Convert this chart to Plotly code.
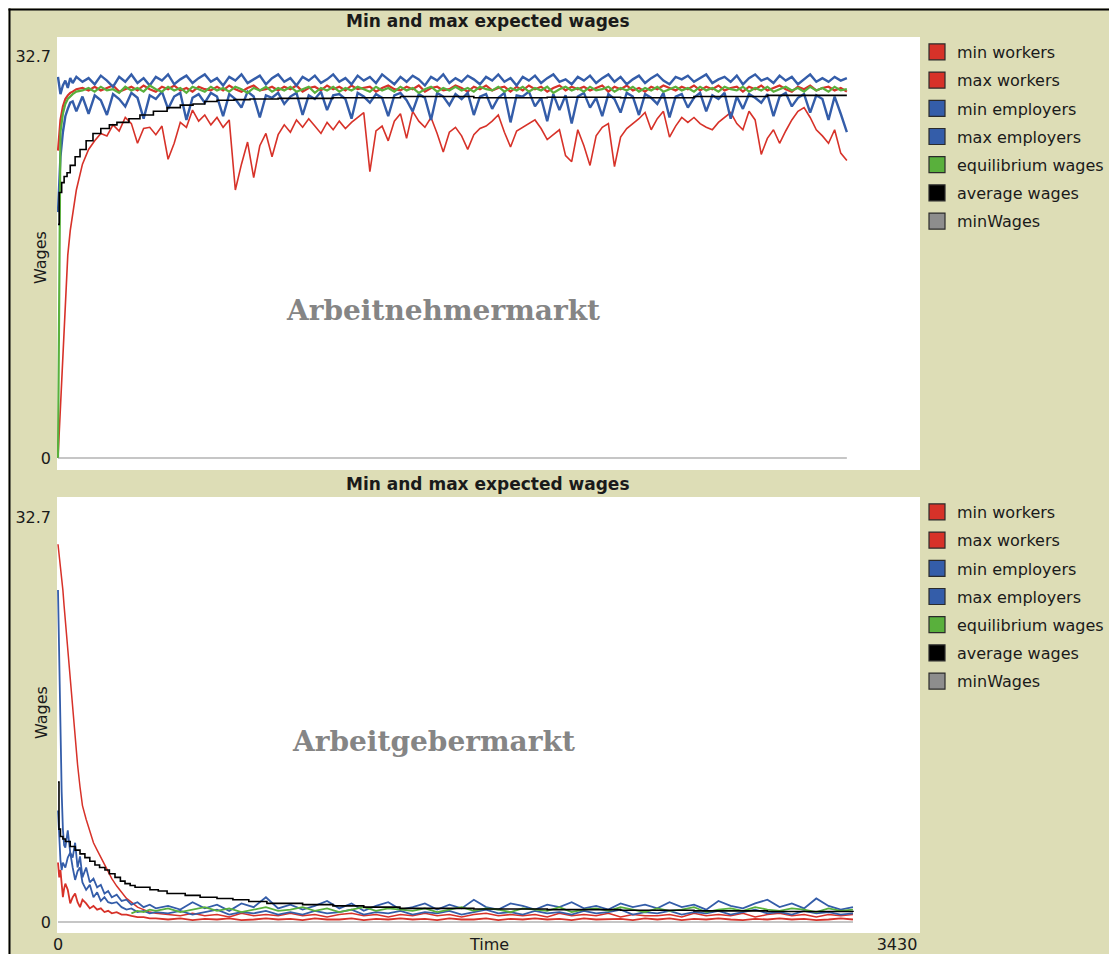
import plotly.graph_objects as go

W, H = 1109, 954
BEIGE = "#DDDDB6"
RED = "rgb(215,50,41)"
BLUE = "rgb(52,93,169)"
GREEN = "rgb(89,176,60)"
BLACK = "rgb(0,0,0)"
GRAY = "rgb(141,141,141)"
TEXT = "#1a1a1a"

SERIES_NAMES = ["min workers", "max workers", "min employers", "max employers",
                "equilibrium wages", "average wages", "minWages"]
SERIES_COLORS = [RED, RED, BLUE, BLUE, GREEN, BLACK, GRAY]

PLOT_TITLE = "Min and max expected wages"
Y_TITLE = "Wages"
X_TITLE = "Time"
X_TICKS = [0, 3430]
Y_TICKS = [0, 32.7]
MARKET_LABELS = ["Arbeitnehmermarkt", "Arbeitgebermarkt"]

# ---------------- top panel (Arbeitnehmermarkt) ----------------
T_TOP = [0, 10, 20, 30, 40, 50, 60, 75, 100, 125,
         150, 175, 200, 225, 250, 275, 300, 325, 350, 375,
         400, 425, 450, 475, 500, 525, 550, 575, 600, 625,
         650, 675, 700, 725, 750, 775, 800, 825, 850, 875,
         900, 925, 950, 975, 1000, 1025, 1050, 1075, 1100, 1125,
         1150, 1175, 1200, 1225, 1250, 1275, 1300, 1325, 1350, 1375,
         1400, 1425, 1450, 1475, 1500, 1525, 1550, 1575, 1600, 1625,
         1650, 1675, 1700, 1725, 1750, 1775, 1800, 1825, 1850, 1875,
         1900, 1925, 1950, 1975, 2000, 2025, 2050, 2075, 2100, 2125,
         2150, 2175, 2200, 2225, 2250, 2275, 2300, 2325, 2350, 2375,
         2400, 2425, 2450, 2475, 2500, 2525, 2550, 2575, 2600, 2625,
         2650, 2675, 2700, 2725, 2750, 2775, 2800, 2825, 2850, 2875,
         2900, 2925, 2950, 2975, 3000, 3025, 3050, 3075, 3100, 3125,
         3150, 3175, 3200, 3225]

MIN_WORKERS_TOP = [0, 4, 9, 13, 16.5, 18.5, 20, 21.8, 23.9, 25.1,
                   25.8, 26.4, 26.2, 27.1, 26.6, 27.7, 27.2, 25.6, 26.8, 26.9,
                   26.3, 27.0, 24.3, 25.6, 27.3, 26.9, 28.3, 27.4, 27.9, 27.1,
                   27.7, 26.9, 27.5, 21.8, 23.9, 25.7, 22.8, 25.4, 26.4, 24.5,
                   26.3, 27.1, 26.5, 27.5, 26.9, 27.6, 27.0, 26.4, 27.3, 26.7,
                   27.4, 26.8, 27.3, 27.7, 28.1, 23.3, 26.6, 27.0, 25.8, 27.4,
                   28.0, 26.0, 28.2, 27.4, 26.9, 27.7, 26.4, 24.9, 26.5, 26.9,
                   26.2, 25.1, 26.3, 26.8, 27.0, 27.4, 27.9, 26.5, 25.3, 26.6,
                   26.9, 27.2, 27.5, 26.8, 25.9, 26.3, 26.7, 24.6, 24.1, 26.7,
                   25.4, 23.8, 26.2, 26.9, 27.2, 23.7, 26.1, 26.8, 27.2, 27.6,
                   28.1, 26.7, 27.6, 28.2, 26.1, 27.0, 27.7, 27.3, 27.7, 27.2,
                   26.9, 26.7, 27.3, 27.7, 28.1, 27.2, 26.7, 28.2, 27.5, 24.7,
                   26.0, 26.7, 25.6, 26.6, 27.5, 28.2, 28.5, 27.7, 26.7, 26.2,
                   25.6, 26.7, 24.8, 24.2]

MAX_WORKERS_TOP = [25.0, 27.5, 28.6, 29.2, 29.5, 29.7, 29.8, 30.0, 30.1, 29.9,
                   30.2, 29.9, 30.1, 30.3, 29.8, 30.0, 30.2, 29.9, 30.3, 30.0,
                   29.8, 30.2, 30.0, 30.3, 29.9, 30.1, 29.8, 30.2, 30.0, 29.9,
                   30.2, 29.9, 30.3, 30.0, 29.8, 30.1, 30.3, 29.9, 30.0, 30.2,
                   29.9, 30.2, 30.0, 30.3, 29.8, 30.1, 30.2, 29.9, 30.3, 30.0,
                   30.2, 29.9, 30.3, 30.0, 30.1, 30.2, 29.8, 30.1, 30.3, 30.0,
                   29.9, 30.2, 30.0, 30.3, 29.8, 30.1, 30.2, 29.9, 30.0, 30.3,
                   30.1, 29.8, 30.2, 30.0, 30.3, 29.9, 30.1, 30.2, 29.8, 30.2,
                   29.9, 30.3, 30.0, 30.2, 29.8, 30.1, 30.3, 29.9, 30.2, 30.0,
                   30.2, 29.9, 30.1, 30.3, 29.8, 30.2, 30.0, 30.3, 29.9, 30.1,
                   29.8, 30.2, 30.0, 30.3, 30.1, 29.9, 30.2, 30.0, 30.3, 29.9,
                   30.2, 30.0, 30.3, 29.9, 30.1, 30.2, 29.8, 30.2, 30.0, 30.3,
                   29.9, 30.1, 30.3, 30.0, 29.8, 30.2, 30.0, 30.3, 29.9, 30.1,
                   30.2, 29.9, 30.1, 29.8]

MIN_EMPLOYERS_TOP = [20.0, 24.5, 26.5, 27.8, 28.4, 28.9, 29.0, 28.2, 29.4, 28.0,
                     29.5, 29.1, 27.9, 29.6, 29.2, 28.6, 29.7, 29.3, 27.6, 29.5,
                     29.2, 29.8, 28.4, 29.4, 29.7, 27.5, 29.3, 29.6, 28.9, 29.7,
                     29.4, 27.8, 29.6, 29.2, 28.5, 29.8, 29.4, 27.7, 29.5, 29.3,
                     29.7, 28.8, 29.4, 29.7, 27.9, 29.5, 29.2, 29.8, 28.3, 29.5,
                     29.6, 29.2, 27.6, 29.7, 29.4, 28.9, 29.6, 29.3, 27.8, 29.5,
                     29.7, 29.1, 28.2, 29.6, 29.3, 27.5, 29.7, 29.4, 28.7, 29.6,
                     29.2, 29.7, 27.9, 29.4, 29.6, 28.4, 29.3, 29.7, 27.3, 29.5,
                     29.4, 29.8, 28.6, 29.3, 27.4, 29.6, 28.3, 29.5, 27.2, 29.4,
                     29.7, 28.5, 29.3, 27.8, 29.6, 29.2, 28.1, 29.7, 29.4, 27.9,
                     29.6, 29.3, 28.8, 29.7, 27.7, 29.4, 29.6, 28.5, 29.3, 29.7,
                     28.2, 29.5, 29.2, 29.7, 27.6, 29.4, 28.4, 29.6, 29.3, 28.9,
                     29.6, 27.8, 29.4, 29.7, 28.6, 29.3, 29.6, 28.1, 29.5, 29.2,
                     27.5, 29.4, 28.0, 26.5]

MAX_EMPLOYERS_TOP = [31.0, 29.6, 30.3, 30.7, 30.1, 30.9, 30.5, 31.0, 30.6, 30.9,
                     30.4, 31.1, 30.7, 30.2, 31.0, 30.6, 31.2, 30.5, 30.9, 30.3,
                     31.0, 30.7, 31.2, 30.4, 30.8, 31.1, 30.5, 30.9, 31.2, 30.6,
                     30.9, 30.3, 31.0, 30.7, 31.2, 30.5, 30.8, 31.1, 30.4, 30.9,
                     31.2, 30.6, 30.9, 30.3, 31.0, 30.7, 31.1, 30.5, 30.8, 31.2,
                     30.6, 30.9, 30.4, 31.1, 30.7, 31.0, 30.5, 31.2, 30.8, 30.4,
                     31.0, 30.6, 31.1, 30.8, 30.3, 31.0, 30.7, 31.2, 30.5, 30.9,
                     30.6, 31.1, 30.8, 30.4, 31.0, 30.7, 31.2, 30.6, 30.9, 30.3,
                     31.0, 30.7, 31.1, 30.5, 30.9, 31.2, 30.6, 30.8, 30.4, 31.0,
                     30.7, 31.1, 30.5, 30.9, 31.2, 30.6, 31.0, 30.4, 30.8, 31.1,
                     30.5, 30.9, 31.2, 30.7, 30.4, 31.0, 30.8, 31.1, 30.6, 30.9,
                     31.2, 30.5, 30.8, 31.0, 30.6, 31.1, 30.4, 30.9, 31.2, 30.7,
                     30.9, 30.5, 31.1, 30.7, 31.0, 30.4, 30.8, 31.2, 30.6, 30.9,
                     30.6, 31.0, 30.7, 30.9]

EQUILIBRIUM_TOP = [0, 26.5, 28.0, 28.8, 29.2, 29.4, 29.6, 29.8, 29.9, 30.1,
                   29.8, 30.2, 29.9, 30.0, 29.7, 30.2, 29.9, 30.1, 29.8, 30.3,
                   30.0, 29.8, 30.2, 29.9, 30.1, 29.7, 30.2, 30.0, 29.8, 30.2,
                   29.9, 30.1, 29.8, 30.2, 30.0, 29.7, 30.1, 29.9, 30.2, 29.8,
                   30.1, 29.9, 30.2, 29.8, 30.0, 30.2, 29.7, 30.1, 29.9, 30.2,
                   29.8, 30.1, 29.9, 30.2, 30.0, 29.8, 30.2, 29.9, 30.1, 29.8,
                   30.2, 29.9, 30.1, 29.7, 30.0, 30.2, 29.8, 30.1, 29.9, 30.2,
                   29.9, 30.1, 29.8, 30.2, 30.0, 29.9, 30.2, 29.8, 30.1, 29.9,
                   30.2, 29.8, 30.1, 29.9, 30.2, 29.7, 30.0, 30.2, 29.9, 30.1,
                   29.8, 30.2, 29.9, 30.0, 30.2, 29.8, 30.1, 29.9, 30.2, 29.8,
                   30.1, 29.9, 30.2, 29.8, 30.0, 30.2, 29.9, 30.1, 29.8, 30.2,
                   29.9, 30.1, 29.8, 30.2, 30.0, 29.9, 30.2, 29.8, 30.1, 29.9,
                   30.2, 29.8, 30.0, 30.2, 29.9, 30.1, 29.8, 30.2, 29.9, 30.1,
                   29.8, 30.2, 29.9, 30.0]

T_AVG_TOP = [0, 5, 15, 25, 37, 50, 70, 90, 115, 143, 175, 210, 241, 290, 335, 390,
             446, 500, 552, 600, 650, 720, 785, 900, 1124, 1400, 1700, 2000, 2300,
             2600, 2900, 3225]
AVG_TOP = [19.0, 21.6, 22.4, 22.9, 23.2, 23.8, 24.5, 25.1, 25.8, 26.4, 26.8, 27.1,
           27.3, 27.6, 27.9, 28.2, 28.5, 28.7, 28.8, 29.0, 29.1, 29.15, 29.2, 29.25,
           29.3, 29.4, 29.3, 29.35, 29.3, 29.4, 29.5, 29.5]

T_MINWAGE_TOP = [0, 3225]
MINWAGE_TOP = [0, 0]

# ---------------- bottom panel (Arbeitgebermarkt) ----------------
T_BOT = [0, 5, 10, 15, 20, 25, 30, 40, 50, 60,
         70, 80, 90, 100, 115, 130, 145, 160, 175, 190,
         205, 220, 240, 260, 280, 300, 325, 350, 375, 400,
         450, 500, 550, 600, 650, 700, 750, 800, 850, 900,
         950, 1000, 1050, 1100, 1150, 1200, 1250, 1300, 1350, 1400,
         1450, 1500, 1550, 1600, 1650, 1700, 1750, 1800, 1850, 1900,
         1950, 2000, 2050, 2100, 2150, 2200, 2250, 2300, 2350, 2400,
         2450, 2500, 2550, 2600, 2650, 2700, 2750, 2800, 2850, 2900,
         2950, 3000, 3050, 3100, 3150, 3200, 3250]

MIN_WORKERS_BOT = [4.8, 3.6, 4.2, 2.8, 2.0, 2.7, 3.1, 2.6, 1.5, 2.0,
                   2.3, 1.6, 1.2, 1.8, 1.5, 1.1, 1.3, 1.0, 1.1, 0.8,
                   0.9, 0.7, 0.8, 0.6, 0.6, 0.5, 0.4, 0.4, 0.3, 0.3,
                   0.2, 0.3, 0.15, 0.25, 0.2, 0.3, 0.15, 0.2, 0.3, 0.2,
                   0.25, 0.15, 0.3, 0.2, 0.2, 0.3, 0.15, 0.25, 0.2, 0.3,
                   0.2, 0.25, 0.15, 0.3, 0.2, 0.2, 0.3, 0.15, 0.25, 0.2,
                   0.3, 0.2, 0.25, 0.15, 0.3, 0.2, 0.2, 0.25, 0.15, 0.3,
                   0.2, 0.3, 0.15, 0.25, 0.2, 0.3, 0.2, 0.15, 0.25, 0.2,
                   0.3, 0.2, 0.25, 0.15, 0.2, 0.3, 0.2]

MAX_WORKERS_BOT = [30.5, 29.7, 28.8, 27.9, 26.8, 25.5, 24.3, 21.7, 19.4, 17.2,
                   14.9, 12.7, 10.9, 9.4, 8.3, 7.3, 6.4, 5.8, 5.2, 4.6,
                   4.0, 3.5, 2.9, 2.4, 1.9, 1.6, 1.2, 1.0, 0.8, 0.7,
                   0.6, 0.5, 0.7, 0.5, 0.6, 0.4, 0.7, 0.5, 0.6, 0.5,
                   0.7, 0.5, 0.6, 0.4, 0.6, 0.7, 0.5, 0.6, 0.4, 0.6,
                   0.5, 0.7, 0.5, 0.6, 0.4, 0.6, 0.7, 0.5, 0.6, 0.5,
                   0.6, 0.4, 0.7, 0.5, 0.6, 0.5, 0.7, 0.4, 0.6, 0.5,
                   0.5, 0.6, 0.4, 0.7, 0.5, 0.6, 0.5, 0.7, 0.4, 0.6,
                   0.7, 0.5, 0.6, 0.4, 0.6, 0.5, 0.6]

MIN_EMPLOYERS_BOT = [9.0, 6.5, 5.0, 4.2, 4.8, 4.6, 4.4, 5.2, 5.6, 4.4,
                     3.4, 4.1, 4.4, 3.2, 2.6, 3.0, 2.0, 2.4, 1.7, 2.0,
                     1.6, 1.5, 1.6, 1.2, 1.0, 1.1, 0.8, 0.9, 0.7, 0.8,
                     0.7, 0.9, 0.6, 0.8, 1.0, 0.6, 0.8, 0.7, 0.9, 0.6,
                     0.8, 0.6, 0.9, 0.7, 0.8, 1.0, 0.6, 0.8, 0.7, 0.9,
                     0.6, 0.8, 0.7, 0.9, 0.6, 0.8, 1.0, 0.7, 0.8, 0.6,
                     0.9, 0.7, 0.8, 0.6, 0.9, 0.7, 0.8, 1.0, 0.6, 0.8,
                     0.7, 0.9, 0.6, 0.8, 0.7, 0.9, 0.6, 0.8, 1.0, 0.7,
                     0.8, 0.6, 0.9, 0.7, 0.8, 0.6, 0.7]

MAX_EMPLOYERS_BOT = [26.8, 21.0, 15.0, 10.5, 7.5, 6.2, 6.0, 7.4, 5.6, 5.2,
                     6.4, 4.4, 5.3, 3.6, 4.4, 3.2, 3.5, 2.8, 3.0, 2.3,
                     2.5, 2.0, 2.2, 1.7, 1.8, 1.4, 1.6, 1.2, 1.4, 1.1,
                     1.3, 1.0, 1.6, 1.1, 1.4, 0.9, 1.5, 1.2, 2.0, 1.1,
                     1.4, 1.0, 1.3, 1.7, 1.1, 1.5, 0.9, 1.3, 1.6, 1.0,
                     1.2, 1.5, 1.0, 1.4, 1.1, 1.8, 1.2, 1.0, 1.5, 1.3,
                     1.0, 1.4, 1.2, 1.6, 1.1, 1.3, 1.0, 1.5, 1.2, 1.4,
                     1.1, 1.6, 1.2, 1.4, 1.0, 1.7, 1.3, 1.1, 1.5, 1.8,
                     1.2, 1.5, 1.1, 1.9, 1.3, 1.0, 1.2]

T_EQ_BOT = [300, 325, 350, 375, 400,
            450, 500, 550, 600, 650, 700, 750, 800, 850, 900,
            950, 1000, 1050, 1100, 1150, 1200, 1250, 1300, 1350, 1400,
            1450, 1500, 1550, 1600, 1650, 1700, 1750, 1800, 1850, 1900,
            1950, 2000, 2050, 2100, 2150, 2200, 2250, 2300, 2350, 2400,
            2450, 2500, 2550, 2600, 2650, 2700, 2750, 2800, 2850, 2900,
            2950, 3000, 3050, 3100, 3150, 3200, 3250]
EQUILIBRIUM_BOT = [0.7, 0.9, 0.8, 1.0, 0.9,
                   1.1, 0.8, 1.0, 1.2, 0.9, 1.1, 0.8, 1.0, 1.2, 0.9,
                   1.0, 1.2, 0.9, 1.1, 0.8, 1.0, 1.2, 0.9, 1.1, 1.0,
                   0.9, 1.1, 0.8, 1.0, 1.2, 0.9, 1.1, 1.0, 0.8, 1.1,
                   1.0, 0.9, 1.2, 0.8, 1.0, 1.1, 0.9, 1.2, 1.0, 0.8,
                   1.1, 0.9, 1.0, 1.2, 0.8, 1.0, 1.1, 0.9, 1.2, 1.0,
                   0.9, 1.1, 1.0, 0.8, 1.1, 0.9, 1.0]

T_AVG_BOT = [0, 4, 10, 20, 30, 50, 70, 90, 110, 130, 151, 170, 192, 210, 233, 255,
             274, 295, 315, 376, 410, 446, 520, 581, 650, 715, 780, 854, 1000, 1124,
             1250, 1398, 1700, 2000, 2300, 2600, 2900, 3250]
AVG_BOT = [11.3, 7.5, 6.9, 6.7, 6.5, 6.1, 5.8, 5.5, 5.2, 4.9, 4.6, 4.4, 4.2, 3.9,
           3.6, 3.3, 3.1, 2.95, 2.8, 2.6, 2.5, 2.3, 2.15, 2.0, 1.9, 1.8, 1.65, 1.5,
           1.4, 1.3, 1.2, 1.1, 1.05, 1.0, 0.95, 0.9, 0.85, 0.8]

T_MINWAGE_BOT = [0, 3250]
MINWAGE_BOT = [0, 0]


def px(p):
    return p / W


def py(p):
    return 1 - p / H


fig = go.Figure()

panels = [
    ("x", "y", "legend", [
        (T_TOP, MIN_WORKERS_TOP, "linear", 1.6),
        (T_TOP, MAX_WORKERS_TOP, "linear", 2.2),
        (T_TOP, MIN_EMPLOYERS_TOP, "linear", 2.4),
        (T_TOP, MAX_EMPLOYERS_TOP, "linear", 2.4),
        (T_TOP, EQUILIBRIUM_TOP, "linear", 2.2),
        (T_AVG_TOP, AVG_TOP, "hv", 1.6),
        (T_MINWAGE_TOP, MINWAGE_TOP, "linear", 1.2),
    ]),
    ("x2", "y2", "legend2", [
        (T_BOT, MIN_WORKERS_BOT, "linear", 1.8),
        (T_BOT, MAX_WORKERS_BOT, "linear", 1.5),
        (T_BOT, MIN_EMPLOYERS_BOT, "linear", 1.8),
        (T_BOT, MAX_EMPLOYERS_BOT, "linear", 1.8),
        (T_EQ_BOT, EQUILIBRIUM_BOT, "linear", 1.8),
        (T_AVG_BOT, AVG_BOT, "hv", 1.6),
        (T_MINWAGE_BOT, MINWAGE_BOT, "linear", 1.2),
    ]),
]

for xa, ya, leg, series in panels:
    for i, (tx, vy, shape, lw) in enumerate(series):
        fig.add_trace(go.Scatter(
            x=tx, y=vy, mode="lines", xaxis=xa, yaxis=ya,
            line=dict(color=SERIES_COLORS[i], width=lw, shape=shape),
            name=SERIES_NAMES[i], showlegend=False, hoverinfo="skip"))
    # legend swatches (square keys like the original)
    for i, name in enumerate(SERIES_NAMES):
        fig.add_trace(go.Scatter(
            x=[None], y=[None], mode="markers", xaxis=xa, yaxis=ya,
            marker=dict(symbol="square", size=16, color=SERIES_COLORS[i],
                        line=dict(color="#2b2b2b", width=1.2)),
            name=name, legend=leg, legendgroup=f"{leg}_{i}", showlegend=True,
            hoverinfo="skip"))

XRANGE = [-4.09, 3524]
axis_common = dict(showgrid=False, zeroline=False, showline=False, ticks="",
                   tickfont=dict(family="DejaVu Sans", size=16, color=TEXT),
                   fixedrange=True)

legend_common = dict(xanchor="left", yanchor="top", bgcolor="rgba(0,0,0,0)",
                     borderwidth=0, traceorder="grouped", tracegroupgap=4.4,
                     itemsizing="trace", itemclick=False, itemdoubleclick=False,
                     font=dict(family="DejaVu Sans", size=16, color=TEXT))

annotations = []
for ytitle, ylab, ymark, xmark, label in [(21, 258, 310, 284, MARKET_LABELS[0]),
                                          (484, 713, 741, 290, MARKET_LABELS[1])]:
    annotations.append(dict(text=f"<b>{PLOT_TITLE}</b>", x=px(488), y=py(ytitle),
                            xref="paper", yref="paper", showarrow=False,
                            xanchor="center", yanchor="middle",
                            font=dict(family="DejaVu Sans", size=17, color=TEXT)))
    annotations.append(dict(text=Y_TITLE, x=px(41), y=py(ylab), xref="paper",
                            yref="paper", showarrow=False, textangle=-90,
                            xanchor="center", yanchor="middle",
                            font=dict(family="DejaVu Sans", size=16, color=TEXT)))
    annotations.append(dict(text=f"<b>{label}</b>", x=px(xmark), y=py(ymark),
                            xref="paper", yref="paper", showarrow=False,
                            xanchor="left", yanchor="middle",
                            font=dict(family="DejaVu Serif", size=28, color="#858585")))
annotations.append(dict(text=X_TITLE, x=px(489), y=py(944), xref="paper", yref="paper",
                        showarrow=False, xanchor="center", yanchor="middle",
                        font=dict(family="DejaVu Sans", size=16, color=TEXT)))

shapes = [
    dict(type="rect", xref="paper", yref="paper", x0=0, x1=px(8.5), y0=-0.01, y1=1.01,
         fillcolor="white", line=dict(width=0), layer="below"),
    dict(type="rect", xref="paper", yref="paper", x0=0, x1=1.01, y0=py(8.5), y1=1.01,
         fillcolor="white", line=dict(width=0), layer="below"),
    dict(type="line", xref="paper", yref="paper", x0=px(9.5), x1=px(9.5), y0=-0.01,
         y1=py(8.5), line=dict(color="black", width=2)),
    dict(type="line", xref="paper", yref="paper", x0=px(8.5), x1=1.01, y0=py(9.5),
         y1=py(9.5), line=dict(color="black", width=2)),
]

fig.update_layout(
    width=W, height=H, autosize=False,
    margin=dict(l=0, r=0, t=0, b=0, pad=0),
    template="none",
    paper_bgcolor=BEIGE, plot_bgcolor="white",
    font=dict(family="DejaVu Sans", size=16, color=TEXT),
    xaxis=dict(domain=[px(57), px(920)], anchor="y", range=XRANGE,
               showticklabels=False, **axis_common),
    yaxis=dict(domain=[py(470), py(37)], anchor="x", range=[-0.976, 34.245],
               tickvals=Y_TICKS, ticktext=[str(v) for v in Y_TICKS],
               ticklabelstandoff=5, **axis_common),
    xaxis2=dict(domain=[px(57), px(920)], anchor="y2", range=XRANGE,
                tickvals=X_TICKS, ticktext=[str(v) for v in X_TICKS], **axis_common),
    yaxis2=dict(domain=[py(933), py(497)], anchor="x2", range=[-0.888, 34.315],
                tickvals=Y_TICKS, ticktext=[str(v) for v in Y_TICKS],
                ticklabelstandoff=5, **axis_common),
    legend=dict(x=px(917), y=py(35), **legend_common),
    legend2=dict(x=px(917), y=py(495), **legend_common),
    annotations=annotations,
    shapes=shapes,
    hovermode=False,
    showlegend=True,
)

fig.write_html("out.html")
